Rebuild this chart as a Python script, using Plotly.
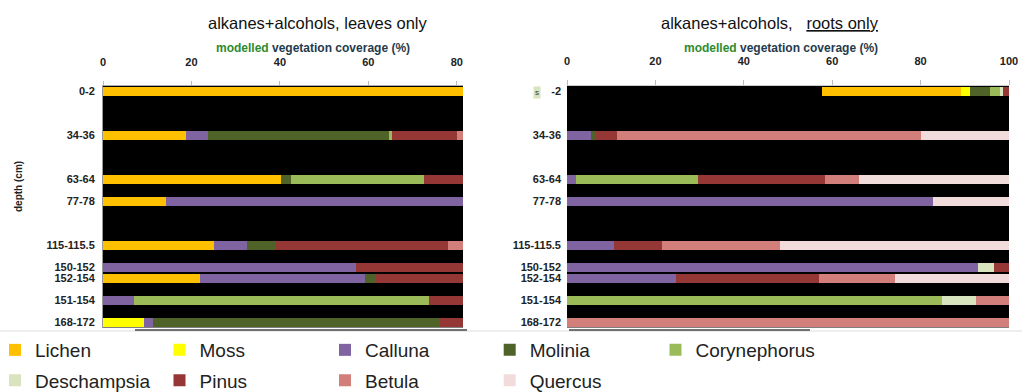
import plotly.graph_objects as go

W, H = 1022, 392

species = ["Lichen", "Moss", "Calluna", "Molinia", "Corynephorus",
           "Deschampsia", "Pinus", "Betula", "Quercus"]
colors = ["#FFC000", "#FFFF00", "#8064A2", "#4F6228", "#9BBB59",
          "#D7E4BD", "#953735", "#D27E7B", "#F2DCDB"]

depth_labels = ["0-2", "34-36", "63-64", "77-78", "115-115.5",
                "150-152", "152-154", "151-154", "168-172"]
depth_labels_roots = ["-2", "34-36", "63-64", "77-78", "115-115.5",
                      "150-152", "152-154", "151-154", "168-172"]
row_slots = [0, 4, 8, 10, 14, 16, 17, 19, 21]

# leaves only (%)
leaves_lichen = [100, 18.7, 40.2, 14.2, 25.0, 0, 22.0, 0, 0]
leaves_moss = [0, 0, 0, 0, 0, 0, 0, 0, 9.3]
leaves_calluna = [0, 5.1, 0, 85.8, 7.6, 57.3, 37.2, 6.9, 2.1]
leaves_molinia = [0, 40.8, 2.3, 0, 6.6, 0, 2.6, 0, 64.9]
leaves_corynephorus = [0, 0.8, 30.1, 0, 0, 0, 0, 66.8, 0]
leaves_deschampsia = [0, 0, 0, 0, 0, 0, 0, 0, 0]
leaves_pinus = [0, 14.7, 27.4, 0, 38.7, 42.7, 38.2, 26.3, 23.7]
leaves_betula = [0, 19.9, 0, 0, 22.1, 0, 0, 0, 0]
leaves_quercus = [0, 0, 0, 0, 0, 0, 0, 0, 0]

# roots only (%)
roots_blank = [57.6, 0, 0, 0, 0, 0, 0, 0, 0]
roots_lichen = [31.5, 0, 0, 0, 0, 0, 0, 0, 0]
roots_moss = [2.1, 0, 0, 0, 0, 0, 0, 0, 0]
roots_calluna = [0, 5.4, 2.0, 82.7, 10.6, 92.9, 24.6, 0, 0]
roots_molinia = [4.5, 1.2, 0, 0, 0, 0, 0, 0, 0]
roots_corynephorus = [2.3, 0, 27.6, 0, 0, 0, 0, 84.9, 0]
roots_deschampsia = [0.6, 0, 0, 0, 0, 3.8, 0, 7.6, 0]
roots_pinus = [1.4, 4.6, 28.8, 0, 10.8, 3.3, 32.4, 0, 0]
roots_betula = [0, 68.8, 7.7, 0, 26.8, 0, 17.1, 7.5, 100]
roots_quercus = [0, 20.0, 33.9, 17.3, 51.8, 0, 25.9, 0, 0]

leaves = [leaves_lichen, leaves_moss, leaves_calluna, leaves_molinia,
          leaves_corynephorus, leaves_deschampsia, leaves_pinus,
          leaves_betula, leaves_quercus]
roots = [roots_lichen, roots_moss, roots_calluna, roots_molinia,
         roots_corynephorus, roots_deschampsia, roots_pinus,
         roots_betula, roots_quercus]

def px(x):
    return x / W

def py(y):
    return 1 - y / H

legend_ids = ["legend"] + ["legend%d" % k for k in range(2, 10)]

fig = go.Figure()
BW = 0.77

for i, name in enumerate(species):
    fig.add_trace(go.Bar(
        x=leaves[i], y=row_slots, orientation="h", name=name,
        marker=dict(color=colors[i], line=dict(width=0)), width=BW,
        xaxis="x", yaxis="y", legendgroup=name, showlegend=True,
        legend=legend_ids[i],
    ))

fig.add_trace(go.Bar(
    x=roots_blank, y=row_slots, orientation="h", name="",
    marker=dict(color="rgba(0,0,0,0)", line=dict(width=0)), width=BW,
    xaxis="x2", yaxis="y2", showlegend=False, hoverinfo="skip",
))
for i, name in enumerate(species):
    fig.add_trace(go.Bar(
        x=roots[i], y=row_slots, orientation="h", name=name,
        marker=dict(color=colors[i], line=dict(width=0)), width=BW,
        xaxis="x2", yaxis="y2", legendgroup=name, showlegend=False,
    ))

ytick_font = dict(family="Liberation Sans, Arial, sans-serif", size=11,
                  color="#222222", weight="bold")
xtick_font = dict(family="Liberation Sans, Arial, sans-serif", size=11,
                  color="#222222", weight="bold")
ydom = [py(327.5), py(85.5)]
legend_font = dict(family="Liberation Sans, Arial, sans-serif",
                   size=19, color="#222222")

fig.update_layout(
    width=W, height=H,
    margin=dict(l=0, r=0, t=0, b=0, autoexpand=False),
    paper_bgcolor="white", plot_bgcolor="black",
    barmode="stack", bargap=0,
    xaxis=dict(domain=[px(103), px(463)], range=[0, 81.4], side="top",
               anchor="y", tickvals=[0, 20, 40, 60, 80], showgrid=False,
               zeroline=False, showline=True, linecolor="#aaaaaa",
               ticks="outside", ticklen=4, tickcolor="#bbbbbb",
               ticklabelstandoff=10, tickfont=xtick_font, automargin=False),
    yaxis=dict(domain=ydom, range=[21.5, -0.5], anchor="x",
               tickvals=row_slots, ticktext=depth_labels, showgrid=False,
               zeroline=False, showline=True, linecolor="#999999",
               ticks="", ticklabelstandoff=5, tickfont=ytick_font,
               automargin=False),
    xaxis2=dict(domain=[px(567), px(1009)], range=[0, 100], side="top",
                anchor="y2", tickvals=[0, 20, 40, 60, 80, 100],
                showgrid=False, zeroline=False, showline=True,
                linecolor="#cccccc", ticks="outside", ticklen=5,
                tickcolor="#bbbbbb", ticklabelstandoff=10,
                tickfont=xtick_font, automargin=False),
    yaxis2=dict(domain=ydom, range=[21.5, -0.5], anchor="x2",
                tickvals=row_slots, ticktext=depth_labels_roots,
                showgrid=False, zeroline=False, showline=False,
                ticks="", ticklabelstandoff=5, tickfont=ytick_font,
                automargin=False),
)

# legend placement: 5 columns in row 1, 4 in row 2
col_left = [-5, 159.5, 325, 489.7, 655.5]
row_mid = [350, 380.5]
for i, lid in enumerate(legend_ids):
    r, c = (0, i) if i < 5 else (1, i - 5)
    fig.update_layout({lid: dict(
        orientation="h", x=px(col_left[c]), y=py(row_mid[r]),
        xanchor="left", yanchor="middle", bgcolor="rgba(0,0,0,0)",
        font=legend_font, itemclick=False, itemdoubleclick=False)})

title_font = dict(family="Liberation Sans, Arial, sans-serif", size=16.5, color="#111111")
axis_title = ('<span style="color:#2e8b2e">modelled</span> vegetation coverage (%)')
axt_font = dict(family="Liberation Sans, Arial, sans-serif", size=12,
                color="#1f3b4d", weight="bold")

def note(x, y, text, font, **kw):
    fig.add_annotation(x=px(x), y=py(y), xref="paper", yref="paper",
                       xanchor="center", yanchor="middle", text=text,
                       showarrow=False, font=font, **kw)

note(318, 23, "alkanes+alcohols, leaves only", title_font)
note(770, 23, "alkanes+alcohols,&nbsp;&nbsp;&nbsp;<u>roots only</u>", title_font)
note(313, 48, axis_title, axt_font)
note(781, 48, axis_title, axt_font)
note(18, 187, "depth (cm)",
     dict(family="Liberation Sans, Arial, sans-serif", size=10,
          color="#222222", weight="bold"), textangle=-90)
note(537, 92, "s", dict(family="Liberation Sans, Arial, sans-serif",
                        size=8, color="#333333"), bgcolor="#D7E4BD")

fig.add_shape(type="line", xref="paper", yref="paper",
              x0=0, x1=1, y0=py(331), y1=py(331),
              line=dict(color="#dddddd", width=1))
fig.add_shape(type="line", xref="paper", yref="paper",
              x0=px(135), x1=px(467), y0=py(330), y1=py(330),
              line=dict(color="#444444", width=1.5))
fig.add_shape(type="line", xref="paper", yref="paper",
              x0=px(569), x1=px(810), y0=py(330), y1=py(330),
              line=dict(color="#444444", width=1.5))

fig.write_html("out.html",
               config={"displayModeBar": False},
               post_script="document.body.style.margin='0px';")
